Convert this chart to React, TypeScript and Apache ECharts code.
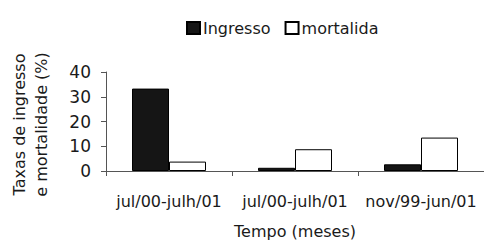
import React, { useEffect, useRef } from "react";
import * as echarts from "echarts";

const categories = ["jul/00-julh/01", "jul/00-julh/01", "nov/99-jun/01"];
const ingresso = [33.3, 1.3, 2.7];
const mortalidade = [3.8, 8.8, 13.5];
const seriesNames = ["Ingresso", "mortalida"];
const yTicks = { min: 0, max: 40, interval: 10 };

const FONT = "DejaVu Sans, Verdana, sans-serif";

export default function App() {
  const ref = useRef<HTMLDivElement>(null);
  useEffect(() => {
    if (!ref.current) return;
    const chart = echarts.init(ref.current, null, { renderer: "svg" });
    chart.setOption({
      animation: false,
      backgroundColor: "#fff",
      textStyle: { fontFamily: FONT },
      legend: {
        data: seriesNames,
        left: 181,
        top: 15,
        itemWidth: 13,
        itemHeight: 12,
        itemGap: 14,
        icon: "rect",
        textStyle: { fontFamily: FONT, fontSize: 16, color: "#1a1a1a", padding: [0, 0, 0, -2] },
      },
      grid: { left: 101, right: 0, top: 72, bottom: 72 },
      xAxis: {
        type: "category",
        data: categories,
        name: "Tempo (meses)",
        nameLocation: "middle",
        nameGap: 52,
        nameTextStyle: { fontFamily: FONT, fontSize: 16, color: "#1a1a1a" },
        axisLine: { lineStyle: { color: "#555", width: 1 } },
        axisTick: { show: true, length: 5, alignWithLabel: false, lineStyle: { color: "#555" } },
        axisLabel: { fontFamily: FONT, fontSize: 16, color: "#1a1a1a", margin: 22, interval: 0 },
      },
      yAxis: {
        type: "value",
        min: yTicks.min,
        max: yTicks.max,
        interval: yTicks.interval,
        name: "Taxas de ingresso\ne mortalidade (%)",
        nameLocation: "middle",
        nameRotate: 90,
        nameGap: 54,
        nameTextStyle: { fontFamily: FONT, fontSize: 16, color: "#1a1a1a", lineHeight: 22, padding: [0, 6, 0, 0] },
        splitLine: { show: false },
        axisLine: { show: true, lineStyle: { color: "#555", width: 1 } },
        axisTick: { show: true, length: 5, lineStyle: { color: "#555" } },
        axisLabel: { fontFamily: FONT, fontSize: 17, color: "#1a1a1a", margin: 15 },
      },
      series: [
        {
          name: seriesNames[0],
          type: "bar",
          data: ingresso,
          barWidth: 37,
          barGap: "0%",
          itemStyle: { color: "#151515", borderColor: "#000", borderWidth: 1 },
        },
        {
          name: seriesNames[1],
          type: "bar",
          data: mortalidade,
          barWidth: 37,
          barGap: "0%",
          itemStyle: { color: "#fff", borderColor: "#000", borderWidth: 1 },
        },
      ],
    });
    return () => chart.dispose();
  }, []);
  return <div ref={ref} style={{ width: 484, height: 243, position: "absolute", left: 0, top: 0 }} />;
}
